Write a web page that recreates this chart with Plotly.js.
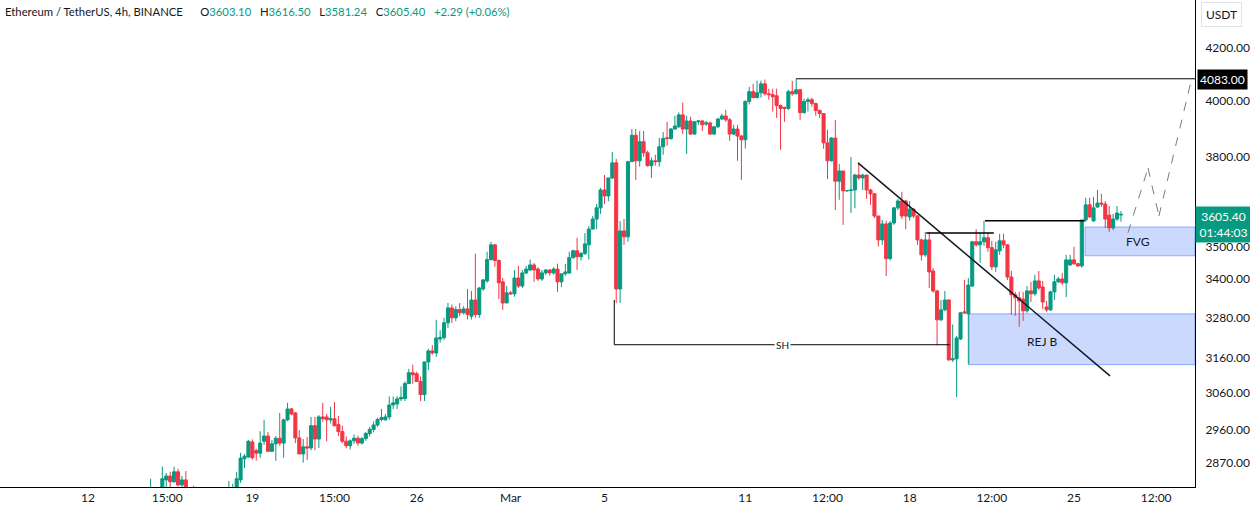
<!DOCTYPE html>
<html>
<head>
<meta charset="utf-8">
<script src="https://cdn.plot.ly/plotly-3.0.1.min.js"></script>
<style>
  html, body { margin: 0; padding: 0; background: #fff; }
  #chart { width: 1250px; height: 507px; }
</style>
</head>
<body>
<div id="chart"></div>
<script>
// ETHUSDT 4h candles, first one opens 2024-02-14 16:00, one every 4 hours
const firstCandle = Date.UTC(2024, 1, 14, 16);

const openPx = [
  2776, 2796, 2771, 2786, 2826, 2836, 2821, 2847, 2813, 2826,
  2791, 2781, 2796, 2781, 2766, 2776, 2786, 2771, 2761, 2771,
  2786, 2796, 2801, 2826, 2881, 2886, 2926, 2903, 2896, 2928,
  2942, 2901, 2921, 2936, 2923, 2986, 3016, 3005, 2937, 2894,
  2913, 2910, 2970, 2934, 2994, 2994, 2986, 2989, 2973, 2954,
  2928, 2916, 2929, 2936, 2923, 2935, 2949, 2960, 2972, 2987,
  2986, 2994, 3027, 3030, 3044, 3045, 3087, 3118, 3115, 3093,
  3056, 3149, 3181, 3175, 3216, 3220, 3264, 3309, 3279, 3304,
  3294, 3306, 3284, 3333, 3289, 3367, 3392, 3459, 3506, 3456,
  3389, 3324, 3355, 3352, 3401, 3376, 3417, 3426, 3442, 3429,
  3398, 3417, 3426, 3417, 3429, 3389, 3414, 3417, 3465, 3487,
  3468, 3478, 3506, 3557, 3590, 3627, 3687, 3667, 3728, 3780,
  3367, 3551, 3532, 3784, 3877, 3787, 3854, 3815, 3770, 3787,
  3784, 3836, 3868, 3865, 3899, 3907, 3950, 3899, 3928, 3881,
  3925, 3928, 3917, 3921, 3881, 3907, 3935, 3946, 3932, 3881,
  3899, 3874, 3861, 3999, 4035, 4013, 4031, 4064, 4027, 4024,
  4020, 3984, 3977, 3973, 4035, 4027, 4042, 3958, 3999, 4005,
  3991, 3966, 3955, 3850, 3787, 3867, 3717, 3752, 3684, 3685,
  3687, 3738, 3728, 3738, 3687, 3674, 3600, 3522, 3574, 3462,
  3577, 3627, 3650, 3650, 3597, 3623, 3600, 3522, 3474, 3522,
  3423, 3361, 3273, 3303, 3333, 3155, 3158, 3216, 3297, 3291,
  3376, 3516, 3506, 3516, 3529, 3497, 3436, 3487, 3519, 3506,
  3404, 3349, 3340, 3336, 3300, 3361, 3352, 3392, 3373, 3312,
  3303, 3358, 3389, 3398, 3386, 3442, 3458, 3446, 3439, 3587,
  3637, 3584, 3630, 3643, 3640, 3603, 3561, 3590, 3603.10
];
const highPx = [
  2829, 2799, 2791, 2861, 2844, 2847, 2860, 2855, 2836, 2849,
  2797, 2811, 2799, 2791, 2781, 2791, 2796, 2786, 2776, 2791,
  2823, 2816, 2847, 2897, 2894, 2931, 2933, 2908, 2955, 2986,
  2953, 2931, 2942, 3005, 2989, 3033, 3019, 3008, 2958, 2934,
  2939, 2994, 2994, 2999, 3033, 3002, 3022, 3035, 2997, 2970,
  2941, 2933, 2946, 2943, 2939, 2953, 2967, 2982, 2992, 3016,
  3002, 3051, 3051, 3051, 3079, 3093, 3129, 3141, 3121, 3107,
  3149, 3187, 3198, 3273, 3242, 3279, 3324, 3319, 3314, 3324,
  3314, 3367, 3361, 3478, 3373, 3398, 3484, 3516, 3509, 3459,
  3401, 3376, 3361, 3426, 3439, 3426, 3439, 3459, 3448, 3435,
  3426, 3429, 3429, 3435, 3446, 3414, 3445, 3484, 3490, 3529,
  3484, 3544, 3567, 3600, 3640, 3694, 3738, 3728, 3818, 3794,
  3583, 3590, 3787, 3899, 3899, 3892, 3892, 3822, 3798, 3808,
  3868, 3888, 3925, 3903, 3946, 3959, 3995, 3946, 3943, 3928,
  3932, 3932, 3928, 3925, 3910, 3939, 3954, 3968, 3939, 3914,
  3914, 3878, 4003, 4053, 4064, 4076, 4076, 4080, 4046, 4046,
  4046, 3988, 3980, 4042, 4075, 4083, 4046, 4009, 4013, 4013,
  3995, 3969, 3955, 3896, 3870, 3932, 3776, 3752, 3687, 3800,
  3742, 3780, 3742, 3738, 3691, 3677, 3600, 3587, 3584, 3584,
  3630, 3657, 3681, 3654, 3650, 3626, 3603, 3526, 3548, 3548,
  3432, 3364, 3333, 3361, 3336, 3259, 3225, 3297, 3395, 3401,
  3519, 3557, 3545, 3584, 3545, 3519, 3516, 3542, 3542, 3509,
  3423, 3358, 3358, 3358, 3376, 3389, 3411, 3423, 3392, 3330,
  3361, 3411, 3404, 3417, 3474, 3474, 3500, 3449, 3587, 3661,
  3661, 3664, 3687, 3674, 3650, 3633, 3607, 3633, 3616.50
];
const lowPx = [
  2761, 2761, 2751, 2781, 2801, 2799, 2819, 2809, 2799, 2781,
  2766, 2771, 2771, 2761, 2746, 2761, 2766, 2751, 2741, 2761,
  2776, 2786, 2791, 2818, 2857, 2884, 2879, 2876, 2884, 2918,
  2901, 2899, 2876, 2916, 2884, 2982, 2999, 2923, 2894, 2871,
  2878, 2904, 2904, 2910, 2981, 2928, 2976, 2968, 2942, 2923,
  2909, 2906, 2921, 2916, 2919, 2929, 2941, 2952, 2967, 2982,
  2984, 2986, 3016, 3016, 3038, 3038, 3087, 3087, 3093, 3038,
  3038, 3126, 3170, 3164, 3205, 3213, 3249, 3264, 3269, 3284,
  3289, 3274, 3274, 3279, 3279, 3361, 3386, 3456, 3436, 3336,
  3303, 3324, 3349, 3343, 3370, 3370, 3413, 3423, 3389, 3392,
  3392, 3411, 3408, 3411, 3358, 3373, 3408, 3414, 3462, 3426,
  3456, 3474, 3459, 3557, 3557, 3607, 3640, 3649, 3724, 3324,
  3324, 3506, 3516, 3784, 3721, 3767, 3801, 3767, 3728, 3770,
  3767, 3808, 3840, 3861, 3896, 3903, 3881, 3811, 3878, 3878,
  3914, 3892, 3910, 3878, 3878, 3903, 3932, 3925, 3857, 3878,
  3787, 3721, 3830, 3988, 4013, 4010, 4013, 4020, 4005, 3962,
  3939, 3825, 3925, 3968, 4020, 4027, 3932, 3955, 3962, 3980,
  3947, 3939, 3829, 3724, 3784, 3620, 3654, 3571, 3681, 3610,
  3626, 3721, 3687, 3657, 3637, 3593, 3501, 3506, 3407, 3456,
  3571, 3620, 3590, 3557, 3584, 3593, 3506, 3456, 3468, 3370,
  3355, 3198, 3269, 3299, 3152, 3149, 3049, 3213, 3291, 3141,
  3373, 3500, 3449, 3503, 3484, 3426, 3420, 3474, 3495, 3395,
  3288, 3285, 3252, 3270, 3294, 3327, 3346, 3364, 3306, 3297,
  3300, 3333, 3386, 3380, 3342, 3439, 3442, 3436, 3433, 3581,
  3594, 3581, 3627, 3630, 3561, 3548, 3554, 3584, 3581.24
];
const closePx = [
  2796, 2771, 2786, 2829, 2836, 2821, 2847, 2813, 2826, 2791,
  2781, 2796, 2781, 2766, 2776, 2786, 2771, 2761, 2771, 2786,
  2796, 2805, 2829, 2883, 2888, 2928, 2884, 2896, 2923, 2942,
  2901, 2921, 2936, 2923, 2986, 3016, 3002, 2937, 2894, 2913,
  2910, 2970, 2934, 2994, 2989, 2986, 2989, 2970, 2954, 2928,
  2916, 2929, 2936, 2923, 2935, 2949, 2960, 2972, 2987, 2992,
  2994, 3027, 3033, 3044, 3048, 3087, 3118, 3112, 3093, 3056,
  3149, 3181, 3175, 3219, 3220, 3264, 3309, 3279, 3304, 3294,
  3306, 3289, 3333, 3289, 3370, 3395, 3459, 3506, 3456, 3386,
  3324, 3355, 3352, 3401, 3376, 3417, 3429, 3442, 3426, 3398,
  3417, 3426, 3417, 3429, 3389, 3414, 3420, 3465, 3487, 3468,
  3478, 3509, 3557, 3590, 3627, 3687, 3667, 3728, 3780, 3367,
  3551, 3532, 3784, 3877, 3787, 3854, 3815, 3770, 3787, 3784,
  3836, 3865, 3865, 3899, 3910, 3950, 3899, 3928, 3881, 3925,
  3928, 3914, 3921, 3881, 3907, 3935, 3946, 3932, 3881, 3899,
  3874, 3861, 3999, 4035, 4013, 4031, 4064, 4027, 4024, 4016,
  3984, 3973, 3973, 4035, 4027, 4042, 3958, 3999, 4005, 3991,
  3966, 3955, 3850, 3787, 3867, 3717, 3752, 3684, 3685, 3687,
  3738, 3728, 3738, 3687, 3674, 3600, 3522, 3574, 3462, 3577,
  3627, 3650, 3600, 3600, 3623, 3600, 3522, 3474, 3522, 3420,
  3361, 3273, 3303, 3333, 3155, 3158, 3219, 3294, 3294, 3379,
  3516, 3506, 3516, 3529, 3497, 3436, 3490, 3519, 3506, 3404,
  3349, 3340, 3330, 3300, 3361, 3352, 3392, 3370, 3327, 3303,
  3358, 3389, 3398, 3386, 3458, 3458, 3446, 3439, 3587, 3637,
  3597, 3627, 3643, 3640, 3590, 3561, 3590, 3610, 3605.40
];

// time axis labels
const tickDates = [
  '2024-02-12 00:00', '2024-02-15 09:00', '2024-02-19 00:00', '2024-02-22 12:00',
  '2024-02-26 00:00', '2024-03-01 00:00', '2024-03-05 00:00', '2024-03-11 00:00',
  '2024-03-14 12:00', '2024-03-18 00:00', '2024-03-21 12:00', '2024-03-25 00:00',
  '2024-03-28 12:00'
];
const tickLabels = ['12', '15:00', '19', '15:00', '26', 'Mar', '5', '11', '12:00', '18', '12:00', '25', '12:00'];

// price axis labels
const priceTicks = [4200, 4000, 3800, 3500, 3400, 3280, 3160, 3060, 2960, 2870];

const upColor = '#089981';
const downColor = '#f23645';
const textColor = '#131722';

const times = openPx.map((_, i) =>
  new Date(firstCandle + i * 4 * 3600 * 1000).toISOString().slice(0, 16).replace('T', ' '));

const candles = {
  type: 'candlestick',
  x: times,
  open: openPx,
  high: highPx,
  low: lowPx,
  close: closePx,
  increasing: { line: { color: upColor, width: 1 }, fillcolor: upColor },
  decreasing: { line: { color: downColor, width: 1 }, fillcolor: downColor },
  whiskerwidth: 0,
  hoverinfo: 'skip'
};

const xEnd = '2024-03-30 03:43';
const boxFill = 'rgba(41,98,255,0.24)';
const boxLine = 'rgba(41,98,255,0.45)';

const shapes = [
  // 4083 high line
  { type: 'line', x0: '2024-03-13 04:00', x1: xEnd, y0: 4083, y1: 4083, line: { color: '#000', width: 1 } },
  // descending trendline
  { type: 'line', x0: '2024-03-15 19:10', x1: '2024-03-26 12:50', y0: 3780, y1: 3109, line: { color: textColor, width: 1.5 } },
  // SH level
  { type: 'line', x0: '2024-03-05 10:00', x1: '2024-03-19 17:00', y0: 3199, y1: 3199, line: { color: '#000', width: 1 } },
  { type: 'line', x0: '2024-03-05 10:00', x1: '2024-03-05 10:00', y0: 3333, y1: 3199, line: { color: '#000', width: 1 } },
  // small highs
  { type: 'line', x0: '2024-03-18 17:00', x1: '2024-03-21 14:00', y0: 3544, y1: 3544, line: { color: '#000', width: 1.5 } },
  { type: 'line', x0: '2024-03-21 05:00', x1: '2024-03-25 11:00', y0: 3584, y1: 3584, line: { color: '#000', width: 1.5 } },
  // zones
  { type: 'rect', x0: '2024-03-25 11:15', x1: xEnd, y0: 3471, y1: 3564, fillcolor: boxFill, line: { color: boxLine, width: 1 }, layer: 'below' },
  { type: 'rect', x0: '2024-03-20 12:40', x1: xEnd, y0: 3141, y1: 3291, fillcolor: boxFill, line: { color: boxLine, width: 1 }, layer: 'below' },
  // projected path
  { type: 'line', x0: '2024-03-27 07:10', x1: '2024-03-28 03:40', y0: 3545, y1: 3762, line: { color: '#787b86', width: 1, dash: 'dash' } },
  { type: 'line', x0: '2024-03-28 03:40', x1: '2024-03-28 14:50', y0: 3762, y1: 3600, line: { color: '#787b86', width: 1, dash: 'dash' } },
  { type: 'line', x0: '2024-03-28 14:50', x1: '2024-03-30 00:40', y0: 3600, y1: 4089, line: { color: '#787b86', width: 1, dash: 'dash' } }
];

const g = s => '<span style="color:' + upColor + '">' + s + '</span>';
const sp = n => '&nbsp;'.repeat(n);
const header = 'Ethereum / TetherUS, 4h, BINANCE' + sp(6) + 'O' + g('3603.10') + sp(3) + 'H' + g('3616.50') +
  sp(3) + 'L' + g('3581.24') + sp(3) + 'C' + g('3605.40') + sp(3) + g('+2.29 (+0.06%)');

const annotations = [
  { xref: 'paper', yref: 'paper', x: 0, y: 1, xanchor: 'left', yanchor: 'top', xshift: 3, yshift: -3,
    text: header, showarrow: false, font: { size: 11.3, color: textColor }, align: 'left' },
  { xref: 'paper', yref: 'paper', x: 1, y: 1, xanchor: 'left', yanchor: 'top', xshift: 6, yshift: -2,
    text: 'USDT', showarrow: false, font: { size: 12, color: textColor },
    bordercolor: '#e0e3eb', borderwidth: 1, borderpad: 4, bgcolor: '#fff' },
  { xref: 'paper', yref: 'y', x: 1, y: Math.log10(4083), xanchor: 'left', yanchor: 'middle', xshift: 2, yshift: -1,
    text: '4083.00', showarrow: false, font: { size: 12, color: '#fff' }, bgcolor: '#000', borderpad: 2 },
  { xref: 'paper', yref: 'y', x: 1, y: Math.log10(3605.4), xanchor: 'left', yanchor: 'top', xshift: 0, yshift: 8,
    text: '3605.40<br>01:44:03', showarrow: false, font: { size: 12, color: '#fff' }, bgcolor: upColor,
    borderpad: 2, width: 51, align: 'center' },
  { x: '2024-03-12 13:30', y: Math.log10(3199), text: 'SH', showarrow: false,
    font: { size: 10, color: textColor }, bgcolor: '#fff', borderpad: 1 },
  { x: '2024-03-23 15:20', y: Math.log10(3210), text: 'REJ B', showarrow: false, font: { size: 12, color: textColor } },
  { x: '2024-03-27 17:30', y: Math.log10(3516), text: 'FVG', showarrow: false, font: { size: 12, color: textColor } }
];

const layout = {
  width: 1250,
  height: 507,
  margin: { l: 0, r: 55, t: 0, b: 20 },
  paper_bgcolor: '#fff',
  plot_bgcolor: '#fff',
  showlegend: false,
  hovermode: false,
  boxgap: 0.22,
  boxgroupgap: 0,
  font: { family: 'Lato, "Open Sans", sans-serif', color: textColor, size: 12 },
  xaxis: {
    type: 'date',
    range: ['2024-02-08 06:02', xEnd],
    tickmode: 'array',
    tickvals: tickDates,
    ticktext: tickLabels,
    showgrid: false,
    zeroline: false,
    showline: true,
    linecolor: '#000',
    linewidth: 1,
    ticks: '',
    tickfont: { size: 12, color: textColor },
    rangeslider: { visible: false },
    fixedrange: true
  },
  yaxis: {
    type: 'log',
    side: 'right',
    range: [Math.log10(2807.6), Math.log10(4389)],
    tickmode: 'array',
    tickvals: priceTicks,
    ticktext: priceTicks.map(v => v.toFixed(2)),
    showgrid: false,
    zeroline: false,
    showline: true,
    linecolor: '#000',
    linewidth: 1,
    ticks: '',
    ticklabelstandoff: 7,
    tickfont: { size: 12, color: textColor },
    fixedrange: true
  },
  shapes: shapes,
  annotations: annotations
};

Plotly.newPlot('chart', [candles], layout, { displayModeBar: false, staticPlot: true });
</script>
</body>
</html>
